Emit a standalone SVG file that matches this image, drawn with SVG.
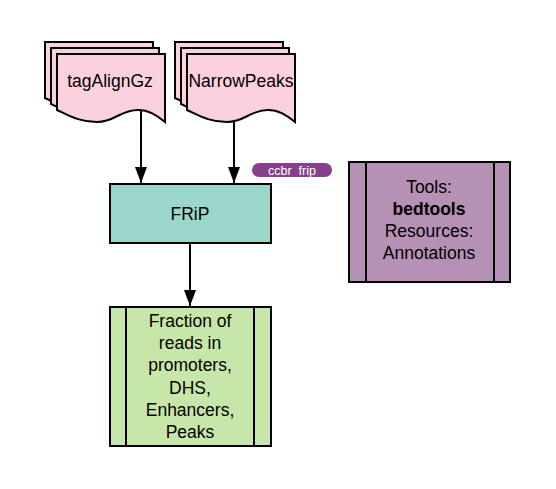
<svg xmlns="http://www.w3.org/2000/svg" width="556" height="489" viewBox="0 0 556 489">
<defs>
<style>
.doc{fill:#fad1dd;stroke:#000;stroke-width:2;}
.box{stroke:#000;stroke-width:2;}
.t{font-family:"Liberation Sans",Arial,sans-serif;font-size:17.5px;fill:#000;text-anchor:middle;}
.edge{stroke:#000;stroke-width:2;fill:none;}
</style>
<path id="sheet" d="M57,54 H165 V122 C156,115 149,110 138,110 C120,110 115,122 97,122 C80,122 70,116 57,110 Z"/>
<marker id="arr" markerWidth="16" markerHeight="12" refX="16" refY="6" orient="auto" markerUnits="userSpaceOnUse">
<path d="M0,0 L16,6 L0,12 Z" fill="#000"/>
</marker>
</defs>
<rect width="556" height="489" fill="#fff"/>
<g id="tagAlignGz">
<use href="#sheet" class="doc" transform="translate(-12,-12)"/>
<use href="#sheet" class="doc" transform="translate(-6,-6)"/>
<use href="#sheet" class="doc"/>
<text class="t" x="110" y="87">tagAlignGz</text>
</g>
<g id="NarrowPeaks">
<use href="#sheet" class="doc" transform="translate(118,-12)"/>
<use href="#sheet" class="doc" transform="translate(124,-6)"/>
<use href="#sheet" class="doc" transform="translate(130,0)"/>
<text class="t" x="241" y="87">NarrowPeaks</text>
</g>
<g id="connectors">
<line class="edge" x1="141" y1="111" x2="141" y2="183" marker-end="url(#arr)"/>
<line class="edge" x1="234" y1="120" x2="234" y2="183" marker-end="url(#arr)"/>
<line class="edge" x1="190" y1="243" x2="190" y2="306" marker-end="url(#arr)"/>
</g>
<g id="FRiP">
<rect class="box" x="110" y="184" width="161" height="59" fill="#9bd6cb"/>
<text class="t" x="190" y="220">FRiP</text>
</g>
<g id="ccbr_frip">
<rect x="252" y="163" width="80" height="14" rx="7" fill="#87418b"/>
<text x="292" y="175" font-family="Liberation Sans,Arial,sans-serif" font-size="12.5" fill="#fff" text-anchor="middle">ccbr_frip</text>
</g>
<g id="Tools">
<rect class="box" x="349" y="162" width="161" height="120" fill="#b591b5"/>
<line class="box" x1="366" y1="162" x2="366" y2="282"/>
<line class="box" x1="494" y1="162" x2="494" y2="282"/>
<text class="t" x="429" y="193">Tools:</text>
<text class="t" x="429" y="215" font-weight="bold">bedtools</text>
<text class="t" x="429" y="237">Resources:</text>
<text class="t" x="429" y="259">Annotations</text>
</g>
<g id="Output">
<rect class="box" x="110" y="307" width="161" height="139" fill="#c7e6aa"/>
<line class="box" x1="126" y1="307" x2="126" y2="446"/>
<line class="box" x1="254" y1="307" x2="254" y2="446"/>
<text class="t" x="190" y="327">Fraction of</text>
<text class="t" x="190" y="349">reads in</text>
<text class="t" x="190" y="371">promoters,</text>
<text class="t" x="190" y="394">DHS,</text>
<text class="t" x="190" y="416">Enhancers,</text>
<text class="t" x="190" y="438">Peaks</text>
</g>
</svg>
